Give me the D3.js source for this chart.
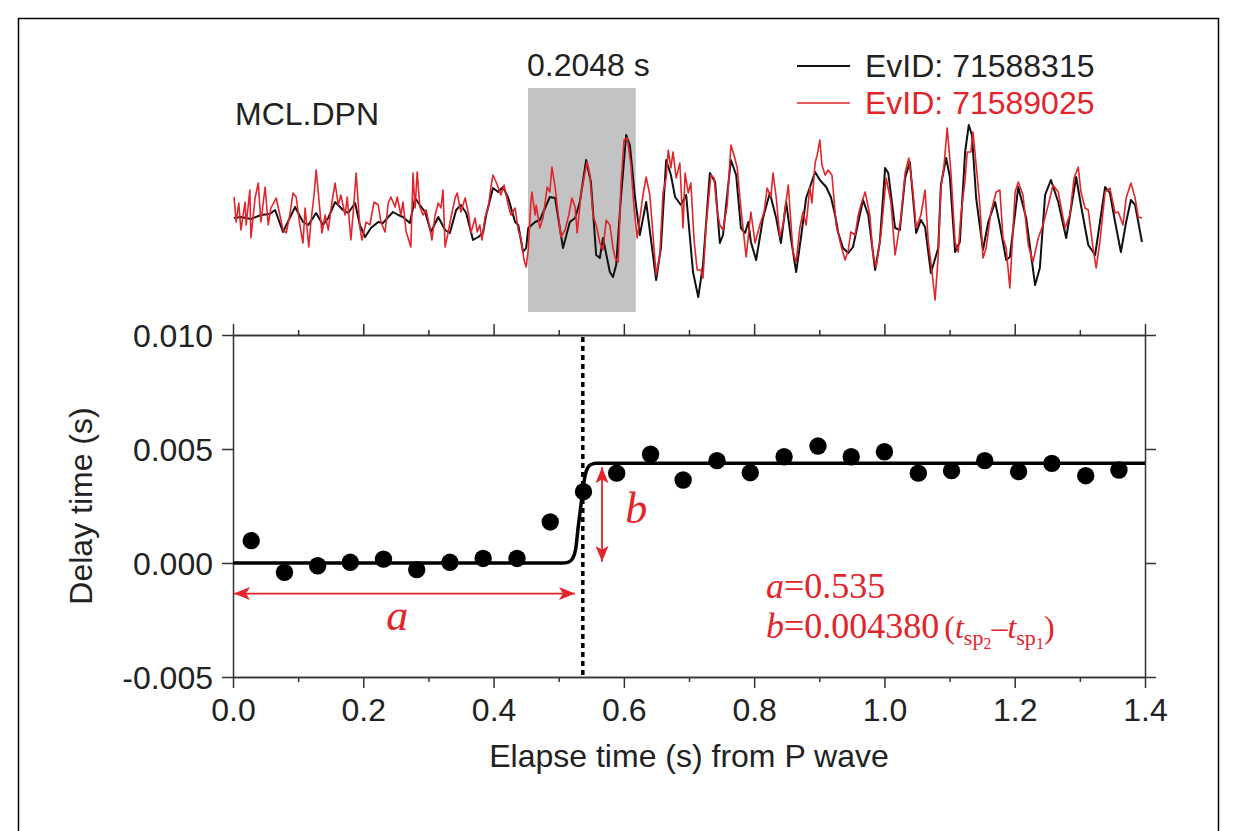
<!DOCTYPE html>
<html>
<head>
<meta charset="utf-8">
<script src="https://cdn.jsdelivr.net/npm/d3@7"></script>
<style>
  html, body { margin: 0; padding: 0; background: #fff; }
  svg { display: block; }
</style>
</head>
<body>
<svg id="chart" width="1236" height="831"></svg>
<script>
// ---------------- DATA ----------------
// Waveforms (time in s, amplitude in arbitrary units)
const waveBlack = [[0.002,-3],[0.015,-2],[0.034,-4],[0.053,0],[0.070,1],[0.080,5],[0.095,-17],[0.118,8],[0.133,-7],[0.143,-10],
[0.158,2],[0.171,-10],[0.181,-3],[0.194,13],[0.209,5],[0.219,2],[0.232,12],[0.241,-10],[0.251,-22],[0.262,-13],
[0.276,-7],[0.285,-8],[0.295,-2],[0.304,3],[0.314,0],[0.323,-2],[0.336,-8],[0.346,17],[0.355,10],[0.365,3],
[0.376,-17],[0.390,-2],[0.403,-15],[0.412,-18],[0.424,5],[0.433,10],[0.443,2],[0.456,-25],[0.466,-22],[0.475,-18],
[0.481,0],[0.494,27],[0.504,23],[0.513,28],[0.523,17],[0.536,-7],[0.542,-10],[0.551,-37],[0.557,-33],[0.561,-13],
[0.574,-7],[0.583,-5],[0.593,7],[0.602,18],[0.612,17],[0.627,-33],[0.640,-7],[0.650,-3],[0.659,13],[0.671,55],
[0.680,33],[0.690,-40],[0.697,-43],[0.703,-23],[0.716,-57],[0.722,-62],[0.728,-50],[0.737,17],[0.747,80],[0.754,70],
[0.764,17],[0.773,-20],[0.785,13],[0.804,-65],[0.813,-33],[0.823,55],[0.832,40],[0.840,18],[0.851,10],[0.861,20],
[0.874,-57],[0.884,-82],[0.893,-50],[0.906,42],[0.916,33],[0.925,-28],[0.931,-20],[0.946,55],[0.956,40],[0.965,-13],
[0.973,-18],[0.979,-7],[0.984,-27],[0.994,-45],[1.007,-3],[1.020,22],[1.032,-3],[1.041,-28],[1.051,13],[1.060,-23],
[1.070,-57],[1.079,-23],[1.089,17],[1.106,43],[1.115,35],[1.127,28],[1.136,18],[1.144,0],[1.150,-18],[1.159,-33],
[1.169,-38],[1.178,-32],[1.197,15],[1.207,0],[1.220,-55],[1.229,-27],[1.239,47],[1.245,42],[1.258,-13],[1.267,-15],
[1.277,37],[1.286,53],[1.298,-18],[1.307,-5],[1.315,-12],[1.326,-58],[1.340,-33],[1.345,30],[1.355,57],[1.362,38],
[1.372,-37],[1.381,-27],[1.391,63],[1.398,90],[1.404,80],[1.412,17],[1.425,-35],[1.435,-7],[1.448,13],[1.457,-10],
[1.469,-45],[1.476,-42],[1.492,28],[1.507,-3],[1.524,-70],[1.533,-53],[1.543,20],[1.554,35],[1.568,13],[1.583,-23],
[1.602,38],[1.611,10],[1.625,-30],[1.638,-40],[1.657,28],[1.666,22],[1.676,-7],[1.687,-37],[1.697,-7],[1.706,15],
[1.714,10],[1.720,-7],[1.727,-27]];

const waveRed = [[0.002,18],[0.006,-7],[0.011,12],[0.015,-15],[0.023,13],[0.025,-10],[0.032,25],[0.034,-23],[0.042,17],[0.048,32],
[0.053,-7],[0.061,28],[0.067,-10],[0.072,7],[0.082,17],[0.089,0],[0.095,-15],[0.101,-18],[0.108,0],[0.114,22],
[0.120,18],[0.127,-10],[0.133,-28],[0.137,7],[0.144,-32],[0.148,-7],[0.154,20],[0.158,45],[0.163,17],[0.169,-18],
[0.175,0],[0.181,-15],[0.188,13],[0.194,32],[0.200,10],[0.205,20],[0.213,0],[0.217,18],[0.224,-25],[0.228,0],
[0.234,42],[0.241,-12],[0.245,-25],[0.253,-7],[0.260,-10],[0.268,13],[0.276,10],[0.281,-7],[0.289,-17],[0.295,12],
[0.300,18],[0.308,8],[0.312,18],[0.319,0],[0.323,13],[0.329,-17],[0.334,-25],[0.338,-32],[0.342,42],[0.346,7],
[0.350,43],[0.355,8],[0.361,0],[0.367,5],[0.374,-13],[0.378,-25],[0.384,0],[0.390,12],[0.395,7],[0.399,25],
[0.403,-32],[0.409,-17],[0.414,-3],[0.422,17],[0.426,22],[0.433,3],[0.441,17],[0.448,0],[0.452,-18],[0.460,-3],
[0.464,-17],[0.469,-10],[0.473,-25],[0.479,-2],[0.485,7],[0.490,28],[0.494,40],[0.500,33],[0.509,20],[0.515,30],
[0.523,10],[0.528,0],[0.536,7],[0.542,-15],[0.547,-23],[0.553,-45],[0.557,-52],[0.561,-35],[0.566,13],[0.568,23],
[0.574,0],[0.576,10],[0.583,-13],[0.589,-3],[0.597,28],[0.602,23],[0.606,48],[0.612,28],[0.618,0],[0.623,-22],
[0.631,-15],[0.638,0],[0.644,17],[0.650,8],[0.654,-18],[0.661,20],[0.669,43],[0.673,53],[0.678,40],[0.684,0],
[0.690,-10],[0.697,-28],[0.703,-35],[0.709,-5],[0.716,-10],[0.722,-33],[0.726,-43],[0.732,-47],[0.737,30],[0.743,75],
[0.749,77],[0.756,50],[0.762,7],[0.768,-23],[0.779,20],[0.785,38],[0.792,20],[0.798,-20],[0.804,-60],[0.811,-40],
[0.817,22],[0.823,37],[0.827,65],[0.832,47],[0.836,63],[0.842,37],[0.849,52],[0.855,-13],[0.859,42],[0.865,22],
[0.870,32],[0.876,-25],[0.882,-55],[0.889,-55],[0.893,-63],[0.899,-10],[0.908,40],[0.914,37],[0.920,3],[0.925,-10],
[0.931,-15],[0.939,10],[0.946,70],[0.952,60],[0.958,47],[0.965,7],[0.975,-42],[0.984,3],[0.992,-28],[1.001,-10],
[1.009,3],[1.015,27],[1.022,18],[1.026,42],[1.032,18],[1.039,-22],[1.045,-10],[1.055,30],[1.064,-37],[1.070,-47],
[1.077,-13],[1.083,3],[1.089,-10],[1.096,28],[1.100,12],[1.106,52],[1.110,60],[1.115,75],[1.119,50],[1.125,40],
[1.131,45],[1.138,40],[1.146,-10],[1.155,-30],[1.163,-45],[1.169,-35],[1.174,-17],[1.182,-20],[1.188,0],[1.193,10],
[1.201,23],[1.210,0],[1.216,-40],[1.222,-52],[1.231,-20],[1.241,37],[1.250,13],[1.258,-40],[1.264,-20],[1.269,-3],
[1.277,42],[1.284,57],[1.292,23],[1.298,-13],[1.307,0],[1.315,25],[1.321,-27],[1.326,-47],[1.334,-85],[1.340,-40],
[1.345,27],[1.351,50],[1.357,87],[1.364,43],[1.372,-27],[1.378,-37],[1.383,0],[1.391,35],[1.395,63],[1.402,63],
[1.406,83],[1.412,50],[1.419,10],[1.425,-43],[1.431,-33],[1.440,3],[1.450,23],[1.457,25],[1.463,-23],[1.469,-33],
[1.476,-73],[1.486,23],[1.492,33],[1.501,20],[1.511,-30],[1.520,-47],[1.530,-23],[1.539,-10],[1.549,10],[1.558,30],
[1.568,23],[1.575,3],[1.581,-13],[1.590,0],[1.598,37],[1.606,48],[1.611,23],[1.619,7],[1.625,5],[1.634,-33],
[1.640,-53],[1.647,-27],[1.657,23],[1.666,27],[1.676,2],[1.682,3],[1.691,-10],[1.697,17],[1.706,32],[1.714,17],
[1.720,-2],[1.727,-3]];

const waveWindowStart = 0.5605;   // s (waveform time)
const waveWindowLength = 0.2048;  // s
const stationName = "MCL.DPN";
const legendLabels = ["EvID: 71588315", "EvID: 71589025"];

// Delay-time measurements
const delayX = [0.028,0.079,0.130,0.180,0.231,0.282,0.333,0.384,0.436,0.487,0.538,0.589,0.641,0.691,
                0.743,0.794,0.846,0.898,0.949,1.000,1.052,1.103,1.154,1.206,1.257,1.309,1.360];
const delayY = [0.00098,-0.00041,-0.00012,0.00003,0.00017,-0.00029,0.00003,0.00020,0.00020,0.00180,0.00313,
                0.00394,0.00477,0.00364,0.00449,0.00396,0.00466,0.00513,0.00466,0.00488,0.00394,0.00405,
                0.00449,0.00401,0.00437,0.00383,0.00408];

// Fitted step curve (knots)
const fitX = [0,0.505,0.515,0.521,0.526,0.530,0.534,0.537,0.541,0.545,0.550,0.557,0.568,1.4];
const fitY = [0,0,0.00004,0.00018,0.0006,0.0016,0.0025,0.0032,0.0039,0.0042,0.00432,0.00437,0.00438,0.00438];

const paramA = 0.535;
const paramB = 0.004380;
const breakLineX = 0.537;

const yTicks = [-0.005, 0, 0.005, 0.010];
const xMajorTicks = [0, 0.2, 0.4, 0.6, 0.8, 1.0, 1.2, 1.4];
const xMinorTicks = [0.1, 0.3, 0.5, 0.7, 0.9, 1.1, 1.3];

// ---------------- DRAW ----------------
const svg = d3.select("#chart");
const RED = "#e3242b";
const SANS = "'Liberation Sans', Arial, Helvetica, sans-serif";
const SERIF = "'Liberation Serif', 'Times New Roman', serif";

// outer frame
svg.append("rect").attr("x", 18.5).attr("y", 18.5).attr("width", 1200).attr("height", 900)
  .attr("fill", "none").attr("stroke", "#000").attr("stroke-width", 1.5);

// ---- waveform panel ----
const wx = d3.scaleLinear().domain([0, 1.729]).range([233, 1143]);
const wy = d3.scaleLinear().domain([-100, 100]).range([315, 115]);

svg.append("rect")
  .attr("x", wx(waveWindowStart)).attr("y", 88)
  .attr("width", wx(waveWindowStart + waveWindowLength) - wx(waveWindowStart))
  .attr("height", 224).attr("fill", "#c3c3c3");

const wline = d3.line().x(d => wx(d[0])).y(d => wy(d[1]));
svg.append("path").datum(waveBlack).attr("d", wline)
  .attr("fill", "none").attr("stroke", "#111").attr("stroke-width", 2).attr("stroke-linejoin", "round");
svg.append("path").datum(waveRed).attr("d", wline)
  .attr("fill", "none").attr("stroke", RED).attr("stroke-width", 1.6).attr("stroke-linejoin", "round");

svg.append("text").attr("x", wx(waveWindowStart) - 1).attr("y", 76)
  .attr("font-family", SANS).attr("font-size", 32).attr("fill", "#222")
  .text(waveWindowLength + " s");

svg.append("text").attr("x", 235).attr("y", 125)
  .attr("font-family", SANS).attr("font-size", 32).attr("fill", "#222").text(stationName);

const legColors = ["#111", RED];
legendLabels.forEach((lab, i) => {
  const ly = 66 + i * 37;
  svg.append("line").attr("x1", 797).attr("x2", 850).attr("y1", ly).attr("y2", ly)
    .attr("stroke", legColors[i]).attr("stroke-width", i ? 1.6 : 2);
  svg.append("text").attr("x", 865).attr("y", ly + 11)
    .attr("font-family", SANS).attr("font-size", 32).attr("fill", i ? RED : "#222").text(lab);
});

// ---- delay-time panel ----
const x = d3.scaleLinear().domain([0, 1.4]).range([233, 1145]);
const y = d3.scaleLinear().domain([-0.005, 0.010]).range([677, 335]);

const axisColor = "#333";
function styleAxis(g, showLabels) {
  g.selectAll("path.domain").attr("stroke", axisColor).attr("stroke-width", 1.5);
  g.selectAll(".tick line").attr("stroke", axisColor).attr("stroke-width", 1.5);
  if (!showLabels) g.selectAll(".tick text").remove();
  else g.selectAll(".tick text").attr("font-family", SANS).attr("font-size", 32).attr("fill", "#222");
}

const fmtY = d => d3.format(".3f")(d).replace("\u2212", "-");
const gLeft = svg.append("g").attr("transform", `translate(${x(0)},0)`)
  .call(d3.axisLeft(y).tickValues(yTicks).tickSize(11).tickSizeOuter(0).tickPadding(9).tickFormat(fmtY));
styleAxis(gLeft, true);
gLeft.selectAll(".tick text").attr("dy", "0.36em");

const gRight = svg.append("g").attr("transform", `translate(${x(1.4)},0)`)
  .call(d3.axisRight(y).tickValues(yTicks).tickSize(11).tickSizeOuter(0));
styleAxis(gRight, false);

const gBottom = svg.append("g").attr("transform", `translate(0,${y(-0.005)})`)
  .call(d3.axisBottom(x).tickValues(xMajorTicks).tickSize(11).tickSizeOuter(0).tickFormat(d3.format(".1f")));
styleAxis(gBottom, true);
gBottom.selectAll(".tick text").attr("y", 44).attr("dy", 0);
const gBottomMinor = svg.append("g").attr("transform", `translate(0,${y(-0.005)})`)
  .call(d3.axisBottom(x).tickValues(xMinorTicks).tickSize(5).tickSizeOuter(0));
styleAxis(gBottomMinor, false);

const gTop = svg.append("g").attr("transform", `translate(0,${y(0.010)})`)
  .call(d3.axisTop(x).tickValues(xMajorTicks).tickSize(11).tickSizeOuter(0));
styleAxis(gTop, false);
const gTopMinor = svg.append("g").attr("transform", `translate(0,${y(0.010)})`)
  .call(d3.axisTop(x).tickValues(xMinorTicks).tickSize(5).tickSizeOuter(0));
styleAxis(gTopMinor, false);

// axis titles
svg.append("text").attr("transform", `translate(92,${(y(0.010) + y(-0.005)) / 2}) rotate(-90)`)
  .attr("text-anchor", "middle").attr("font-family", SANS).attr("font-size", 32).attr("fill", "#222")
  .text("Delay time (s)");
svg.append("text").attr("x", (x(0) + x(1.4)) / 2).attr("y", 767)
  .attr("text-anchor", "middle").attr("font-family", SANS).attr("font-size", 32).attr("fill", "#222")
  .text("Elapse time (s) from P wave");

// dotted break line
svg.append("line").attr("x1", x(breakLineX)).attr("x2", x(breakLineX))
  .attr("y1", y(0.010) + 2).attr("y2", y(-0.005) - 1)
  .attr("stroke", "#000").attr("stroke-width", 3.5).attr("stroke-dasharray", "5,4");

// fit curve
const fitData = fitX.map((v, i) => [v, fitY[i]]);
svg.append("path").datum(fitData)
  .attr("d", d3.line().x(d => x(d[0])).y(d => y(d[1])).curve(d3.curveMonotoneX))
  .attr("fill", "none").attr("stroke", "#000").attr("stroke-width", 3.5);

// points
svg.append("g").selectAll("circle").data(delayX.map((v, i) => [v, delayY[i]])).join("circle")
  .attr("cx", d => x(d[0])).attr("cy", d => y(d[1])).attr("r", 8.7).attr("fill", "#000");

// arrow markers
const defs = svg.append("defs");
defs.append("marker").attr("id", "arr").attr("viewBox", "0 0 16 13")
  .attr("refX", 16).attr("refY", 6.5).attr("markerWidth", 16).attr("markerHeight", 13)
  .attr("markerUnits", "userSpaceOnUse").attr("orient", "auto-start-reverse")
  .append("path").attr("d", "M0,0 L16,6.5 L0,13 L4,6.5 Z").attr("fill", RED);

// arrow a
svg.append("line").attr("x1", x(0) + 1).attr("x2", x(0.525)).attr("y1", y(-0.00134)).attr("y2", y(-0.00134))
  .attr("stroke", RED).attr("stroke-width", 1.8)
  .attr("marker-start", "url(#arr)").attr("marker-end", "url(#arr)");
// arrow b
svg.append("line").attr("x1", x(0.5665)).attr("x2", x(0.5665)).attr("y1", y(0.00005)).attr("y2", y(0.0042))
  .attr("stroke", RED).attr("stroke-width", 1.8)
  .attr("marker-start", "url(#arr)").attr("marker-end", "url(#arr)");

svg.append("text").attr("x", x(0.252)).attr("y", y(-0.00292)).attr("text-anchor", "middle")
  .attr("font-family", SERIF).attr("font-style", "italic").attr("font-size", 44).attr("fill", RED).text("a");
svg.append("text").attr("x", x(0.619)).attr("y", y(0.00176)).attr("text-anchor", "middle")
  .attr("font-family", SERIF).attr("font-style", "italic").attr("font-size", 44).attr("fill", RED).text("b");

// parameter text
const t1 = svg.append("text").attr("x", 766).attr("y", 598)
  .attr("font-family", SERIF).attr("font-size", 36).attr("fill", RED);
t1.append("tspan").attr("font-style", "italic").text("a");
t1.append("tspan").text("=" + paramA.toFixed(3));

const t2 = svg.append("text").attr("x", 766).attr("y", 638)
  .attr("font-family", SERIF).attr("font-size", 36).attr("fill", RED);
t2.append("tspan").attr("font-style", "italic").text("b");
t2.append("tspan").text("=" + paramB.toFixed(6));
t2.append("tspan").attr("font-size", 32).attr("dx", 5).text("(");
t2.append("tspan").attr("font-size", 32).attr("font-style", "italic").text("t");
t2.append("tspan").attr("font-size", 22).attr("dy", 7).text("sp");
t2.append("tspan").attr("font-size", 16).attr("dy", 4).text("2");
t2.append("tspan").attr("font-size", 32).attr("dy", -11).text("\u2013");
t2.append("tspan").attr("font-size", 32).attr("font-style", "italic").text("t");
t2.append("tspan").attr("font-size", 22).attr("dy", 7).text("sp");
t2.append("tspan").attr("font-size", 16).attr("dy", 4).text("1");
t2.append("tspan").attr("font-size", 32).attr("dy", -11).text(")");
</script>
</body>
</html>
